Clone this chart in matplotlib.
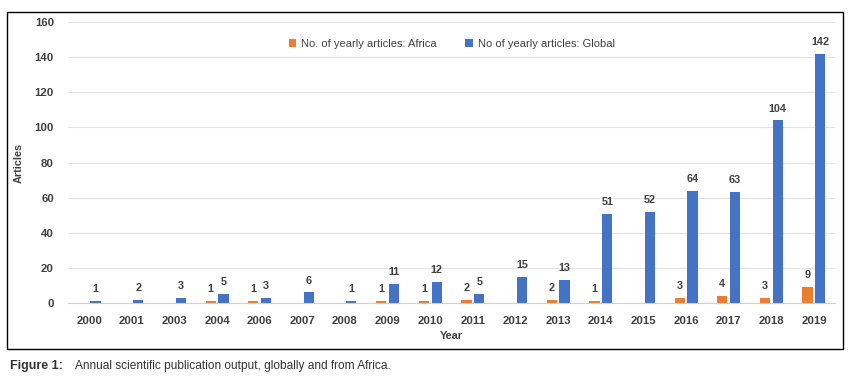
import numpy as np
import matplotlib.pyplot as plt
from matplotlib.patches import Rectangle

years = ['2000', '2001', '2003', '2004', '2006', '2007', '2008', '2009', '2010',
         '2011', '2012', '2013', '2014', '2015', '2016', '2017', '2018', '2019']
africa = [0, 0, 0, 1, 1, 0, 0, 1, 1, 2, 0, 2, 1, 0, 3, 4, 3, 9]
glob = [1, 2, 3, 5, 3, 6, 1, 11, 12, 5, 15, 13, 51, 52, 64, 63, 104, 142]

orange = '#ED7D31'
blue = '#4472C4'
txt = '#404040'

plt.rcParams['font.family'] = ['Liberation Sans', 'DejaVu Sans']

fig = plt.figure(figsize=(8.48, 3.89), dpi=100)
ax = fig.add_axes([0.080, 0.221, 0.905, 0.722])

x = np.arange(len(years))
w = 0.24
b1 = ax.bar(x - w / 2 - 0.03, africa, w, color=orange, label='No. of yearly articles: Africa')
b2 = ax.bar(x + w / 2 + 0.03, glob, w, color=blue, label='No of yearly articles: Global')

# Excel hides the zero labels
ax.bar_label(b1, labels=[str(v) if v else '' for v in africa], padding=5,
             fontsize=7.8, fontweight='bold', color=txt)
ax.bar_label(b2, labels=[str(v) for v in glob], padding=5,
             fontsize=7.8, fontweight='bold', color=txt)

ax.set_ylim(0, 160)
ax.set_yticks(range(0, 161, 20))
ax.set_xlim(-0.5, len(years) - 0.5)
ax.set_xticks(x)
ax.set_xticklabels(years)
ax.tick_params(length=0, labelsize=8.2, labelcolor=txt)
ax.tick_params(axis='x', pad=9)
ax.tick_params(axis='y', pad=10)
for lab in ax.get_xticklabels() + ax.get_yticklabels():
    lab.set_fontweight('bold')

ax.grid(axis='y', color='#E3E3E3', linewidth=0.8)
ax.set_axisbelow(True)
for s in ['top', 'right', 'left']:
    ax.spines[s].set_visible(False)
ax.spines['bottom'].set_color('#D0D0D0')

ax.set_ylabel('Articles', fontsize=7.8, fontweight='bold', color=txt, labelpad=8)
ax.set_xlabel('Year', fontsize=7.8, fontweight='bold', color=txt, labelpad=4)

ax.legend(loc='upper center', bbox_to_anchor=(0.5, 0.975), ncol=2, frameon=False,
          fontsize=8, handlelength=0.7, handleheight=0.7, columnspacing=2.6,
          handletextpad=0.4, labelcolor=txt)

fig.patches.append(Rectangle((7 / 848, 1 - 349 / 389), 836 / 848, 337 / 389,
                             transform=fig.transFigure, fill=False,
                             edgecolor='black', linewidth=1))

fig.text(10 / 848, 1 - 366 / 389, 'Figure 1:', fontsize=9, fontweight='bold',
         color='#333333', va='center')
fig.text(75 / 848, 1 - 366 / 389, 'Annual scientific publication output, globally and from Africa.',
         fontsize=8.6, color='#333333', va='center')

fig.savefig('out.png', dpi=100)
